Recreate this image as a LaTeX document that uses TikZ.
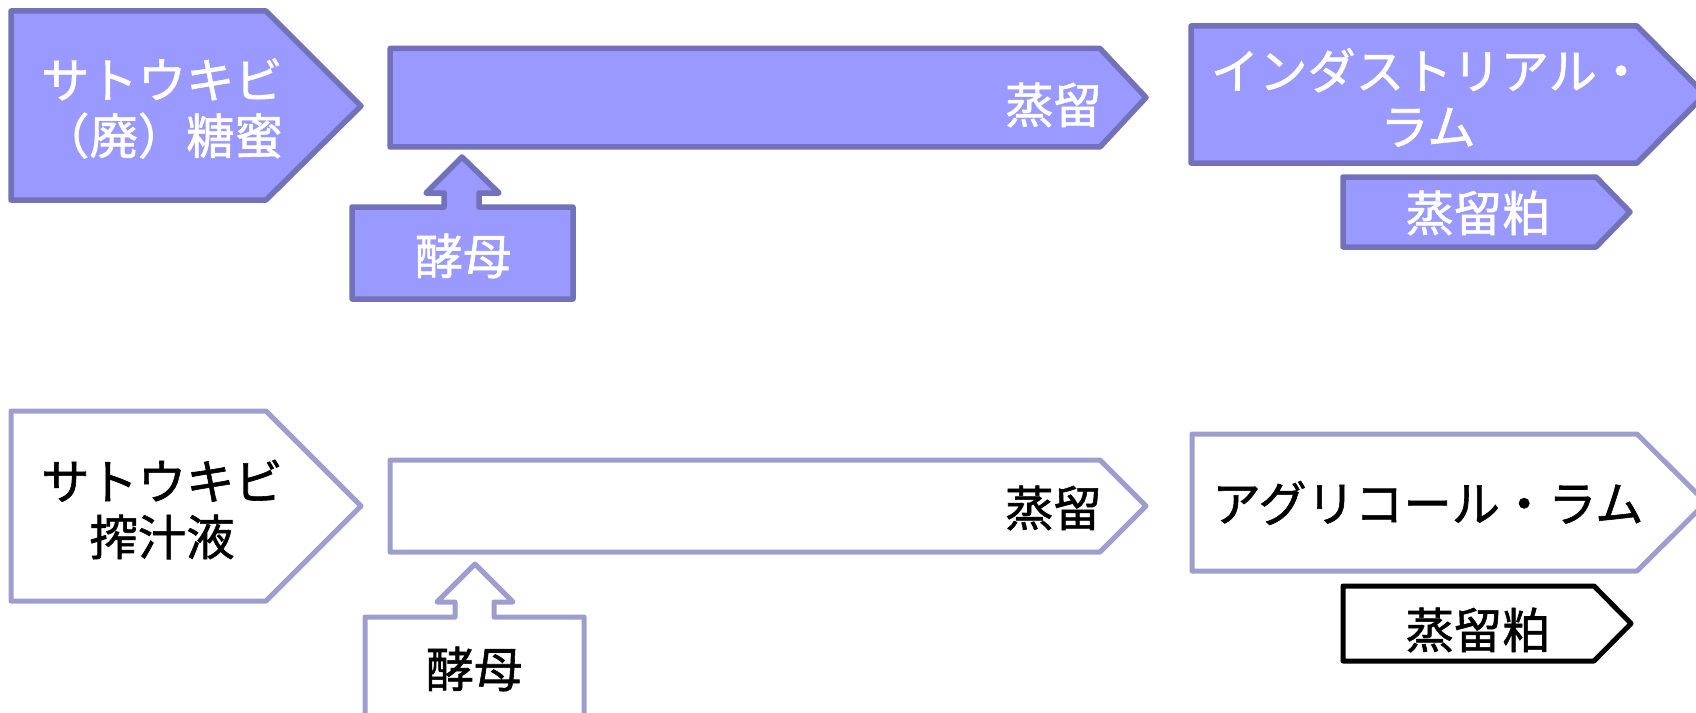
\documentclass[tikz,border=0pt]{standalone}
\usepackage{fontspec}
\setmainfont{Noto Sans CJK JP}[FakeBold=1.2]
\definecolor{topfill}{HTML}{9999FF}
\definecolor{topline}{HTML}{7272BA}
\definecolor{botline}{HTML}{9E9ECE}
\tikzset{
  topshape/.style={fill=topfill,draw=topline,line width=5.5bp,line join=round},
  botshape/.style={fill=white,draw=botline,line width=5bp,line join=round},
  blkshape/.style={fill=white,draw=black,line width=5bp,line join=round},
  lbl/.style={font=\fontsize{48.5}{56}\selectfont,align=center,inner sep=0pt},
  toptext/.style={lbl,text=white},
  bottext/.style={lbl,text=black}
}
\begin{document}
\begin{tikzpicture}[x=1bp,y=-1bp]
\useasboundingbox (0,0) rectangle (1696,713);
\clip (0,0) rectangle (1696,713);
% top row shapes
\draw[topshape] (11,11) -- (266,11) -- (361,106) -- (266,200) -- (11,200) -- cycle;
\draw[topshape] (390,48.5) -- (1100,48.5) -- (1146,97.5) -- (1100,147) -- (390,147) -- cycle;
\draw[topshape] (352,299) -- (352,207) -- (444,207) -- (444,193) -- (426,193) -- (462,157) -- (499,193) -- (479,193) -- (479,207) -- (573,207) -- (573,299) -- cycle;
\draw[topshape] (1191,26) -- (1637,26) -- (1705,94.5) -- (1637,163) -- (1191,163) -- cycle;
\draw[topshape] (1343,177) -- (1596,177) -- (1630,212) -- (1596,247) -- (1343,247) -- cycle;
% bottom row shapes
\draw[botshape] (11,411) -- (266,411) -- (361,506) -- (266,601) -- (11,601) -- cycle;
\draw[botshape] (390,460) -- (1100,460) -- (1146,506) -- (1100,552) -- (390,552) -- cycle;
\draw[botshape] (365,730) -- (365,617) -- (455,617) -- (455,602) -- (437,602) -- (475,564) -- (513,602) -- (494,602) -- (494,617) -- (584,617) -- (584,730) -- cycle;
\draw[botshape] (1192,434) -- (1637,434) -- (1706,502.5) -- (1637,571) -- (1192,571) -- cycle;
\draw[blkshape] (1343,586) -- (1594,586) -- (1631,623.5) -- (1594,661) -- (1343,661) -- cycle;
% labels
\node[toptext] (molasses) at (162,108.5) {サトウキビ\\（廃）糖蜜};
\node[toptext,anchor=east] (distA) at (1102,105) {蒸留};
\node[toptext] (yeastA) at (463,256) {酵母};
\node[toptext] (industrial) at (1428,97.5) {インダストリアル・\\ラム};
\node[toptext] (vinasseA) at (1478,213) {蒸留粕};
\node[bottext] (juice) at (162,509.5) {サトウキビ\\搾汁液};
\node[bottext,anchor=east] (distB) at (1102,508) {蒸留};
\node[bottext] (yeastB) at (474,669) {酵母};
\node[bottext] (agricole) at (1428,503) {アグリコール・ラム};
\node[bottext] (vinasseB) at (1478,630) {蒸留粕};
\end{tikzpicture}
\end{document}
